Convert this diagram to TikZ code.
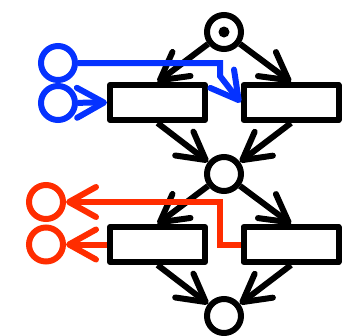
\documentclass[tikz,border=0pt]{standalone}
\usetikzlibrary{arrows.meta}
\definecolor{pblue}{RGB}{5,50,255}
\definecolor{pred}{RGB}{255,45,0}
\tikzset{
  place/.style={circle,draw,line width=6pt,inner sep=0pt,minimum size=34pt},
  transition/.style={rectangle,draw,line width=6pt,line join=round,inner sep=0pt,minimum width=95pt,minimum height=35pt},
  arr/.style={line width=6pt,-{Straight Barb[length=27pt,width=30pt,round]}},
}
\begin{document}
\begin{tikzpicture}[x=1pt,y=-1pt]
\useasboundingbox (0,0) rectangle (356,335);
\node[place] (p1) at (224,32) {};
\fill (224,32) circle (5.5pt);
\node[place] (p2) at (224,174) {};
\node[place] (p3) at (224,316) {};
\node[transition] (t1) at (157.5,102.5) {};
\node[transition] (t2) at (291,102.5) {};
\node[transition] (t3) at (157.5,244.5) {};
\node[transition] (t4) at (291,244.5) {};
\node[place,draw=pblue] (b1) at (58,63) {};
\node[place,draw=pblue] (b2) at (58,103) {};
\node[place,draw=pred] (r1) at (46,202) {};
\node[place,draw=pred] (r2) at (46,244.5) {};
\coordinate (bc1) at (220,63);
\coordinate (bc2) at (220,76);
\coordinate (rc1) at (220,244.5);
\coordinate (rc2) at (220,202);
\draw[arr] (p1) -- (t1.north);
\draw[arr] (p1) -- (t2.north);
\draw[arr] (t1.south) -- (p2);
\draw[arr] (t2.south) -- (p2);
\draw[arr] (p2) -- (t3.north);
\draw[arr] (p2) -- (t4.north);
\draw[arr] (t3.south) -- (p3);
\draw[arr] (t4.south) -- (p3);
\draw[arr,pblue] (b2) -- (t1.west);
\draw[arr,pblue] (b1) -- (bc1) -- (bc2) -- (t2.west);
\draw[arr,pred] (t3.west) -- (r2);
\draw[arr,pred] (t4.west) -- (rc1) -- (rc2) -- (r1);
\end{tikzpicture}
\end{document}
